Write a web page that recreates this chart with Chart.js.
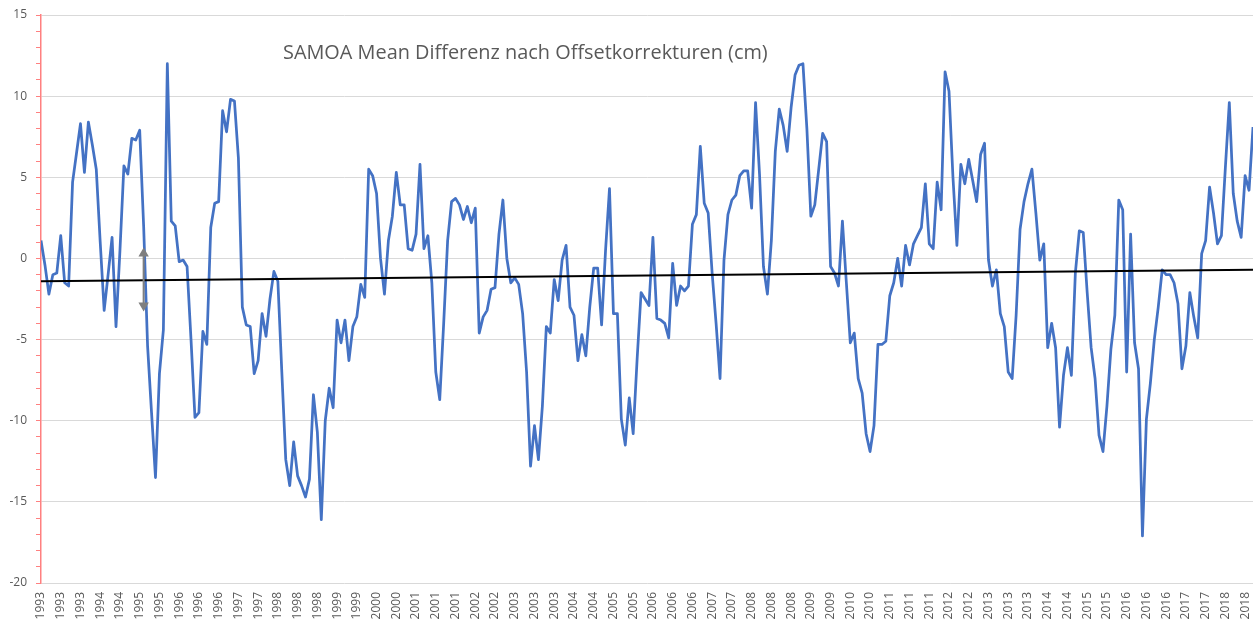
<!DOCTYPE html>
<html>
<head>
<meta charset="utf-8">
<script src="https://cdn.jsdelivr.net/npm/chart.js@4"></script>
<style>
  html, body { margin: 0; padding: 0; background: #fff; overflow: hidden; }
  #wrap { position: relative; width: 1259px; height: 621px; }
  #title {
    position: absolute; left: 283px; top: 40px;
    font: 19.9px "Open Sans", sans-serif; line-height: 24px;
    color: #595959; white-space: nowrap;
  }
</style>
</head>
<body>
<div id="wrap">
  <canvas id="chart" width="1259" height="621"></canvas>
  <div id="title">SAMOA Mean Differenz nach Offsetkorrekturen (cm)</div>
</div>
<script>
// monthly series, first value = Feb 1993
const startYear = 1993
const startMonth = 2

const differenz = [
  1.1, -0.4, -2.2, -1.0, -0.9, 1.4, -1.5, -1.7, 4.7, 6.5,
  8.3, 5.3, 8.4, 7.0, 5.5, 1.0, -3.2, -1.0, 1.3, -4.2,
  0.5, 5.7, 5.2, 7.4, 7.3, 7.9, 2.0, -5.4, -9.5, -13.5,
  -7.1, -4.4, 12.0, 2.3, 2.0, -0.2, -0.1, -0.5, -5.0, -9.8,
  -9.5, -4.5, -5.3, 1.9, 3.4, 3.5, 9.1, 7.8, 9.8, 9.7,
  6.2, -3.0, -4.1, -4.2, -7.1, -6.3, -3.4, -4.8, -2.5, -0.8,
  -1.4, -7.0, -12.4, -14.0, -11.3, -13.4, -14.0, -14.7, -13.6, -8.4,
  -10.7, -16.1, -10.0, -8.0, -9.2, -3.8, -5.2, -3.8, -6.3, -4.2,
  -3.6, -1.6, -2.4, 5.5, 5.1, 4.0, 0.0, -2.2, 1.1, 2.6,
  5.3, 3.3, 3.3, 0.6, 0.5, 1.5, 5.8, 0.6, 1.4, -1.5,
  -7.0, -8.7, -4.0, 1.1, 3.5, 3.7, 3.3, 2.4, 3.2, 2.2,
  3.1, -4.6, -3.6, -3.2, -1.9, -1.8, 1.5, 3.6, 0.0, -1.5,
  -1.2, -1.6, -3.4, -7.0, -12.8, -10.3, -12.4, -9.1, -4.2, -4.6,
  -1.3, -2.6, -0.1, 0.8, -3.0, -3.5, -6.3, -4.7, -6.0, -3.0,
  -0.6, -0.6, -4.1, 0.5, 4.3, -3.4, -3.4, -9.9, -11.5, -8.6,
  -10.8, -6.2, -2.1, -2.5, -2.9, 1.3, -3.7, -3.8, -4.0, -4.9,
  -0.3, -2.9, -1.7, -2.0, -1.7, 2.1, 2.7, 6.9, 3.4, 2.8,
  -0.9, -4.0, -7.4, -0.1, 2.7, 3.6, 3.9, 5.1, 5.4, 5.4,
  3.1, 9.6, 5.2, -0.5, -2.2, 1.1, 6.6, 9.2, 8.2, 6.6,
  9.3, 11.3, 11.9, 12.0, 8.0, 2.6, 3.3, 5.5, 7.7, 7.2,
  -0.5, -0.9, -1.7, 2.3, -1.5, -5.2, -4.6, -7.4, -8.3, -10.8,
  -11.9, -10.3, -5.3, -5.3, -5.1, -2.3, -1.5, 0.0, -1.7, 0.8,
  -0.4, 0.9, 1.4, 1.9, 4.6, 0.9, 0.6, 4.7, 3.0, 11.5,
  10.3, 5.0, 0.8, 5.8, 4.6, 6.1, 4.8, 3.5, 6.4, 7.1,
  -0.1, -1.7, -0.7, -3.4, -4.2, -7.0, -7.4, -3.5, 1.8, 3.5,
  4.6, 5.5, 2.8, -0.1, 0.9, -5.5, -4.0, -5.5, -10.4, -7.2,
  -5.5, -7.2, -0.9, 1.7, 1.6, -2.1, -5.5, -7.4, -10.9, -11.9,
  -9.1, -5.6, -3.5, 3.6, 3.0, -7.0, 1.5, -5.2, -6.8, -17.1,
  -9.9, -7.7, -5.0, -3.0, -0.7, -1.0, -1.0, -1.5, -2.8, -6.8,
  -5.4, -2.1, -3.6, -4.9, 0.3, 1.1, 4.4, 2.8, 0.9, 1.4,
  5.6, 9.6, 4.0, 2.3, 1.3, 5.1, 4.2, 8.1
]

// linear trend, value at first and last month
const trendEnds = [-1.4, -0.7]

// grey offset marker (month index, top, bottom)
const offsetMarkMonth = 26
const offsetMarkRange = [0.3, -2.9]

const yTicks = [15, 10, 5, 0, -5, -10, -15, -20]
const labelEvery = 5

// year label for every month
const monthYears = differenz.map((v, i) => String(startYear + Math.floor((startMonth - 1 + i) / 12)))
const lastIdx = differenz.length - 1

const grey = '#595959'
const font = { family: '"Open Sans", sans-serif', size: 12 }

const ctx = document.getElementById('chart')
window.myLine = new Chart(ctx, {
  type: 'line',
  data: {
    datasets: [
      {
        label: 'Offset',
        data: offsetMarkRange.map((y) => ({ x: offsetMarkMonth, y })),
        borderColor: '#7f7f7f',
        backgroundColor: '#7f7f7f',
        borderWidth: 2,
        pointStyle: 'triangle',
        pointRadius: 4,
        pointRotation: [0, 180],
        order: 0,
      },
      {
        label: 'Trend',
        data: [{ x: 0, y: trendEnds[0] }, { x: lastIdx, y: trendEnds[1] }],
        borderColor: '#000000',
        borderWidth: 2,
        pointRadius: 0,
        order: 1,
      },
      {
        label: 'SAMOA',
        data: differenz.map((y, x) => ({ x, y })),
        borderColor: '#4472C4',
        borderWidth: 2.75,
        borderJoinStyle: 'round',
        pointRadius: 0,
        tension: 0,
        order: 2,
      },
    ],
  },
  options: {
    responsive: false,
    animation: false,
    devicePixelRatio: 1,
    layout: { padding: { top: 15, left: 0, right: 0, bottom: 0 } },
    plugins: { legend: { display: false }, tooltip: { enabled: false }, title: { display: false } },
    scales: {
      x: {
        type: 'linear',
        min: 0,
        max: lastIdx,
        grid: { display: false, drawTicks: false, tickLength: 0 },
        border: { display: false },
        ticks: {
          stepSize: labelEvery,
          includeBounds: false,
          autoSkip: false,
          maxTicksLimit: 200,
          minRotation: 90,
          maxRotation: 90,
          padding: 9,
          color: grey,
          font: font,
          callback: (v) => (v % labelEvery === 0 && monthYears[v] ? monthYears[v] : ''),
        },
        afterFit: (scale) => {
          scale.height = 38
          scale.paddingLeft = 0
          scale.paddingRight = 0
        },
      },
      y: {
        min: yTicks[yTicks.length - 1],
        max: yTicks[0],
        grid: {
          color: (c) => (yTicks.includes(c.tick.value) ? '#d9d9d9' : 'rgba(0,0,0,0)'),
          tickColor: '#ff8080',
          tickLength: 5,
          lineWidth: 1,
        },
        border: { color: '#ff8080', width: 1.5 },
        ticks: {
          stepSize: 1,
          autoSkip: false,
          padding: 9,
          color: grey,
          font: font,
          callback: (v) => (yTicks.includes(v) ? v : ''),
        },
        afterFit: (scale) => {
          scale.width = 41
          scale.paddingTop = 0
          scale.paddingBottom = 0
        },
      },
    },
  },
})
</script>
</body>
</html>
